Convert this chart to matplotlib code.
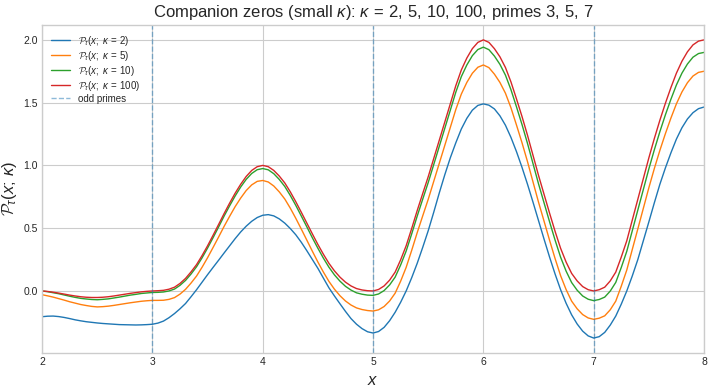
import numpy as np
import matplotlib
matplotlib.use("Agg")
import matplotlib.pyplot as plt

# x grid the values were read on (step 0.05)
x = np.round(np.linspace(2.0, 8.0, 121), 2)

# kappa = 100
p_k100 = [0.0, -0.004, -0.01, -0.017, -0.025, -0.033, -0.04, -0.046, -0.05, -0.052,
          -0.052, -0.05, -0.046, -0.04, -0.033, -0.026, -0.019, -0.013, -0.007, -0.003,
          0.0, 0.002, 0.005, 0.014, 0.03, 0.06, 0.10, 0.152, 0.21, 0.282,
          0.36, 0.444, 0.53, 0.617, 0.70, 0.779, 0.85, 0.912, 0.96, 0.99,
          1.0, 0.99, 0.96, 0.915, 0.86, 0.789, 0.71, 0.626, 0.54, 0.454,
          0.37, 0.292, 0.22, 0.16, 0.11, 0.07, 0.04, 0.019, 0.008, 0.002,
          0.0, 0.012, 0.04, 0.086, 0.15, 0.248, 0.36, 0.497, 0.64, 0.776,
          0.91, 1.055, 1.20, 1.345, 1.49, 1.635, 1.76, 1.855, 1.93, 1.98,
          2.0, 1.98, 1.93, 1.865, 1.78, 1.665, 1.53, 1.39, 1.24, 1.08,
          0.92, 0.77, 0.62, 0.475, 0.34, 0.23, 0.14, 0.08, 0.035, 0.01,
          0.0, 0.01, 0.03, 0.08, 0.15, 0.27, 0.40, 0.565, 0.73, 0.895,
          1.06, 1.215, 1.36, 1.495, 1.62, 1.735, 1.83, 1.905, 1.96, 1.99,
          2.0]
# kappa = 10
p_k10 = [0.0, -0.006, -0.014, -0.022, -0.032, -0.042, -0.051, -0.059, -0.064, -0.068,
         -0.070, -0.067, -0.063, -0.056, -0.049, -0.041, -0.033, -0.027, -0.020, -0.016,
         -0.012, -0.011, -0.008, 0.0, 0.015, 0.045, 0.084, 0.135, 0.193, 0.264,
         0.342, 0.425, 0.510, 0.597, 0.679, 0.757, 0.828, 0.889, 0.936, 0.966,
         0.975, 0.965, 0.934, 0.888, 0.832, 0.760, 0.681, 0.596, 0.510, 0.423,
         0.340, 0.261, 0.189, 0.128, 0.078, 0.037, 0.007, -0.015, -0.026, -0.033,
         -0.035, -0.024, 0.003, 0.048, 0.110, 0.207, 0.318, 0.454, 0.596, 0.731,
         0.864, 1.007, 1.151, 1.295, 1.439, 1.583, 1.707, 1.800, 1.874, 1.923,
         1.942, 1.922, 1.871, 1.805, 1.719, 1.603, 1.467, 1.326, 1.175, 1.014,
         0.853, 0.702, 0.551, 0.405, 0.269, 0.158, 0.067, 0.006, -0.040, -0.066,
         -0.077, -0.068, -0.049, -0.001, 0.068, 0.187, 0.316, 0.480, 0.644, 0.808,
         0.972, 1.125, 1.269, 1.403, 1.527, 1.641, 1.735, 1.808, 1.862, 1.891,
         1.900]
# kappa = 5
p_k5 = [-0.030, -0.039, -0.049, -0.061, -0.073, -0.086, -0.097, -0.108, -0.116, -0.123,
        -0.127, -0.125, -0.121, -0.115, -0.108, -0.101, -0.094, -0.088, -0.082, -0.078,
        -0.075, -0.075, -0.074, -0.067, -0.053, -0.025, 0.013, 0.063, 0.119, 0.189,
        0.265, 0.347, 0.430, 0.515, 0.595, 0.672, 0.740, 0.800, 0.845, 0.873,
        0.880, 0.868, 0.836, 0.789, 0.732, 0.659, 0.578, 0.492, 0.404, 0.316,
        0.230, 0.150, 0.076, 0.014, -0.038, -0.080, -0.112, -0.135, -0.148, -0.156,
        -0.160, -0.150, -0.124, -0.080, -0.018, 0.078, 0.188, 0.323, 0.464, 0.598,
        0.730, 0.873, 1.016, 1.159, 1.302, 1.445, 1.568, 1.661, 1.734, 1.782,
        1.800, 1.779, 1.727, 1.661, 1.575, 1.459, 1.322, 1.181, 1.030, 0.868,
        0.707, 0.556, 0.404, 0.258, 0.122, 0.011, -0.081, -0.142, -0.188, -0.215,
        -0.226, -0.217, -0.198, -0.150, -0.081, 0.038, 0.167, 0.331, 0.494, 0.658,
        0.822, 0.976, 1.120, 1.253, 1.377, 1.491, 1.585, 1.659, 1.712, 1.741,
        1.750]
# kappa = 2
p_k2 = [-0.205, -0.201, -0.200, -0.204, -0.211, -0.220, -0.230, -0.238, -0.245, -0.250,
        -0.255, -0.259, -0.262, -0.265, -0.268, -0.269, -0.270, -0.271, -0.270, -0.268,
        -0.265, -0.256, -0.240, -0.213, -0.180, -0.142, -0.100, -0.046, 0.010, 0.070,
        0.130, 0.188, 0.245, 0.303, 0.360, 0.417, 0.470, 0.516, 0.555, 0.585,
        0.603, 0.608, 0.598, 0.574, 0.540, 0.497, 0.447, 0.387, 0.320, 0.250,
        0.180, 0.102, 0.025, -0.040, -0.102, -0.163, -0.220, -0.265, -0.300, -0.325,
        -0.335, -0.323, -0.290, -0.237, -0.170, -0.090, 0.000, 0.105, 0.220, 0.347,
        0.480, 0.627, 0.780, 0.925, 1.060, 1.180, 1.290, 1.375, 1.440, 1.478,
        1.490, 1.480, 1.450, 1.395, 1.320, 1.223, 1.110, 0.985, 0.850, 0.707,
        0.560, 0.413, 0.270, 0.135, 0.010, -0.098, -0.190, -0.263, -0.320, -0.358,
        -0.375, -0.364, -0.330, -0.272, -0.200, -0.105, 0.000, 0.120, 0.250, 0.400,
        0.550, 0.703, 0.850, 0.980, 1.100, 1.210, 1.300, 1.370, 1.420, 1.452,
        1.465]

kappas = [2, 5, 10, 100]
series = [p_k2, p_k5, p_k10, p_k100]
odd_primes = [3, 5, 7]

plt.style.use("seaborn-v0_8-whitegrid")
plt.rcParams['font.family'] = ['Liberation Sans', 'DejaVu Sans']
plt.rcParams['mathtext.fontset'] = 'custom'
plt.rcParams['mathtext.rm'] = 'Liberation Sans'
plt.rcParams['mathtext.it'] = 'Liberation Sans:italic'
plt.rcParams['mathtext.bf'] = 'Liberation Sans:bold'
plt.rcParams['mathtext.cal'] = 'cmsy10'

fig, ax = plt.subplots(figsize=(7.14, 3.9), dpi=100)
fig.subplots_adjust(left=0.059, right=0.986, top=0.936, bottom=0.095)

for k, vals in zip(kappas, series):
    ax.plot(x, vals, lw=1.0, label=r'$\mathcal{P}_\tau(x;\ \kappa\,=\,%d)$' % k)

for i, p in enumerate(odd_primes):
    ax.axvline(p, ls='--', lw=1.0, color='tab:blue', alpha=0.5,
               label='odd primes' if i == 0 else None)

ax.set_xlim(2, 8)
ax.set_xlabel(r'$x$', fontsize=12)
ax.set_ylabel(r'$\mathcal{P}_\tau(x;\,\kappa)$', fontsize=12, labelpad=3)
ax.set_title(r'Companion zeros (small $\kappa$): $\kappa\,=\,2,\,5,\,10,\,100$, primes $3,\,5,\,7$',
             fontsize=12)
ax.tick_params(labelsize=7.5, pad=3)
for s in ax.spines.values():
    s.set_visible(True)
    s.set_color('#cccccc')
ax.legend(loc='upper left', fontsize=7, labelspacing=0.1)

fig.savefig("out.png", dpi=100)
